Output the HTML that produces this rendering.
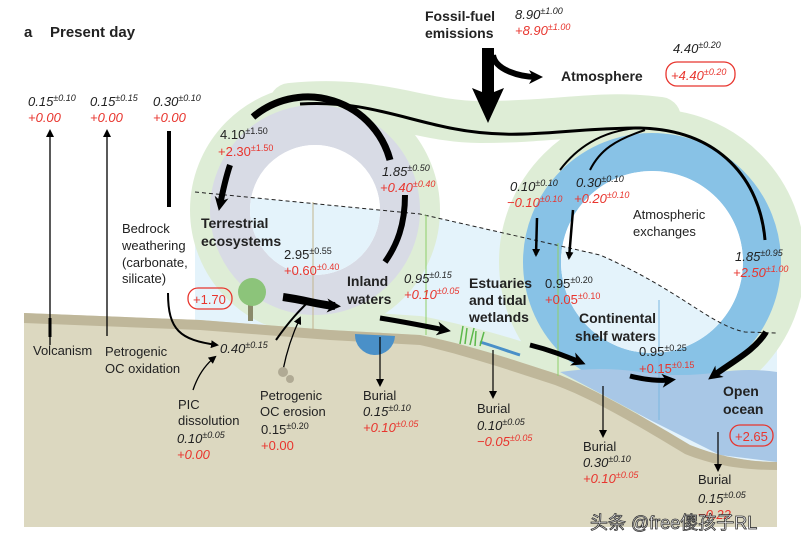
<!DOCTYPE html>
<html><head><meta charset="utf-8"><style>
body{margin:0;background:#fff}
svg{display:block}
text{font-family:"Liberation Sans",Arial,sans-serif;font-size:13px;fill:#222}
.r{fill:#e8352e}.i{font-style:italic}.b{font-weight:bold;font-size:14px}
.s{font-size:9px}
</style></head><body>
<svg width="801" height="549" viewBox="0 0 801 549" xmlns="http://www.w3.org/2000/svg">
<defs>
<marker id="ah" markerWidth="8" markerHeight="8" refX="6" refY="4" orient="auto" markerUnits="userSpaceOnUse"><path d="M0,0 L8,4 L0,8 z" fill="#000"/></marker>
<marker id="ab" markerWidth="14" markerHeight="14" refX="8" refY="7" orient="auto" markerUnits="userSpaceOnUse"><path d="M0,0 L14,7 L0,14 L4,7 z" fill="#000"/></marker>
<path id="lb" d="M195,192 L420,214 L600,255 C680,290 710,325 745,332 L777,333 L777,480 L195,480 Z"/>
<clipPath id="c1"><circle cx="315" cy="210" r="65"/></clipPath>
<clipPath id="c2"><circle cx="652" cy="262" r="91"/></clipPath>
</defs>
<use href="#lb" fill="#e4f3fb"/>
<g fill="none" stroke="#deedd6">
<circle cx="315" cy="210" r="112" stroke-width="26"/>
<path d="M290,104 C380,95 420,122 480,122 C560,122 600,110 660,118" stroke-width="42" stroke-linecap="round"/>
<circle cx="652" cy="262" r="140" stroke-width="26"/>
<path d="M330,322 L420,328 C470,338 520,352 560,368 L640,400" stroke-width="24"/>
</g>
<circle cx="315" cy="210" r="85" fill="none" stroke="#d8dbe5" stroke-width="40"/>
<circle cx="652" cy="262" r="110" fill="none" stroke="#88c2e6" stroke-width="38"/>
<circle cx="315" cy="210" r="65" fill="#fff"/>
<circle cx="652" cy="262" r="91" fill="#fff"/>
<use href="#lb" fill="#e4f3fb" clip-path="url(#c1)"/>
<use href="#lb" fill="#e4f3fb" clip-path="url(#c2)"/>
<path d="M195,192 L420,214 L600,255 C680,290 710,325 745,332 L777,333" fill="none" stroke="#222" stroke-dasharray="4,3" stroke-width="1"/>
<path d="M560,372 Q600,366 640,372 Q680,378 720,372 Q750,368 777,372 L777,462 L720,455 L650,420 Z" fill="#a8c7e6"/>
<path d="M24,313 L200,320 L330,330 L420,335 C470,345 520,362 560,375 C600,392 640,415 690,445 C720,457 750,462 777,462 L777,527 L24,527 Z" fill="#dcd8c0"/>
<path d="M24,313 L200,320 L330,330 L420,335 C470,345 520,362 560,375 C600,392 640,415 690,445 C720,457 750,462 777,462 L777,470 C745,470 715,466 685,454 C635,424 595,400 555,385 C515,372 465,355 420,345 L330,340 L200,330 L24,323 Z" fill="#bfb79a"/>
<path d="M355,334 A20,20 0 0 0 395,336 Z" fill="#4a90c8"/>
<path d="M480,342 C500,348 510,352 520,355" stroke="#4a90c8" stroke-width="3" fill="none"/>
<rect x="248" y="296" width="5" height="25" fill="#8a8a6a"/>
<circle cx="252" cy="292" r="14" fill="#8cc47a"/>
<path d="M460,344 l3,-18 M465,344 l2,-16 M470,345 l4,-17 M475,346 l1,-15 M480,346 l4,-14" stroke="#5cb84a" stroke-width="1.5"/>
<g stroke-width="1">
<line x1="313" y1="202" x2="313" y2="330" stroke="#c2b48e"/>
<line x1="426" y1="215" x2="426" y2="335" stroke="#8fcf6a"/>
<line x1="558" y1="243" x2="558" y2="376" stroke="#8fcf6a"/>
<line x1="659" y1="300" x2="659" y2="420" stroke="#7ab7e0"/>
</g>
<line x1="50" y1="345" x2="50" y2="131" stroke="#000" stroke-width="1.3" marker-end="url(#ah)"/>
<line x1="50" y1="318" x2="50" y2="337" stroke="#000" stroke-width="3"/>
<line x1="107" y1="336" x2="107" y2="131" stroke="#000" stroke-width="1.3" marker-end="url(#ah)"/>
<line x1="169" y1="131" x2="169" y2="207" stroke="#000" stroke-width="4"/>
<path d="M168,293 C168,330 180,340 217,345" fill="none" stroke="#000" stroke-width="2" marker-end="url(#ah)"/>
<path d="M193,390 C198,375 205,365 215,357" fill="none" stroke="#000" stroke-width="1.3" marker-end="url(#ah)"/>
<path d="M276,340 C290,320 300,310 310,300" fill="none" stroke="#000" stroke-width="2"/>
<path d="M283,370 C287,350 292,335 300,318" fill="none" stroke="#000" stroke-width="1.3" marker-end="url(#ah)"/>
<circle cx="283" cy="372" r="5" fill="#b0aa94"/><circle cx="290" cy="379" r="4" fill="#b0aa94"/>
<g stroke="#000" stroke-width="1.2">
<line x1="380" y1="337" x2="380" y2="385" marker-end="url(#ah)"/>
<line x1="493" y1="350" x2="493" y2="397" marker-end="url(#ah)"/>
<line x1="603" y1="386" x2="603" y2="436" marker-end="url(#ah)"/>
<line x1="718" y1="432" x2="718" y2="470" marker-end="url(#ah)"/>
</g>
<g fill="none" stroke="#000">
<path d="M253,117 A85,85 0 0 1 390,160" stroke-width="7"/>
<path d="M230,165 C225,180 222,195 220,205" stroke-width="6" marker-end="url(#ab)"/>
<path d="M405,195 C405,225 397,245 385,262" stroke-width="6"/>
<path d="M300,104 C360,100 400,118 450,128 C520,142 560,128 640,128 C720,130 760,180 765,240" stroke-width="3"/>
<path d="M640,128 C600,130 575,150 560,170" stroke-width="2"/>
<path d="M645,130 C615,140 600,150 590,170" stroke-width="2"/>
<path d="M537,218 L536,255" stroke-width="2.5" marker-end="url(#ah)"/>
<path d="M573,210 L569,258" stroke-width="2.5" marker-end="url(#ah)"/>
<path d="M766,332 C755,350 735,360 713,376" stroke-width="6" marker-end="url(#ab)"/>
<path d="M283,297 C305,300 320,305 335,306" stroke-width="8" marker-end="url(#ab)"/>
<path d="M380,318 C405,322 425,326 445,330" stroke-width="5" marker-end="url(#ab)"/>
<path d="M530,345 C550,350 565,356 580,362" stroke-width="5" marker-end="url(#ab)"/>
<path d="M630,376 C645,380 660,381 670,380" stroke-width="5" marker-end="url(#ab)"/>
<path d="M493,55 C495,70 520,77 537,77" stroke-width="6" marker-end="url(#ab)"/>
</g>
<path d="M482,48 L494,48 L494,92 L504,88 L488,123 L472,88 L482,92 Z" fill="#000"/>
<g fill="none" stroke="#e8352e" stroke-width="1.3">
<rect x="188" y="288" width="44" height="21" rx="10"/>
<rect x="730" y="425" width="43" height="21" rx="10"/>
<rect x="666" y="62" width="69" height="24" rx="11"/>
</g>
<text x="24" y="37" class="b" style="font-size:15px">a</text>
<text x="50" y="37" class="b" style="font-size:15px">Present day</text>
<text x="28" y="106" class="i">0.15<tspan class="s" dy="-5">±0.10</tspan></text>
<text x="28" y="122" class="i r">+0.00</text>
<text x="90" y="106" class="i">0.15<tspan class="s" dy="-5">±0.15</tspan></text>
<text x="90" y="122" class="i r">+0.00</text>
<text x="153" y="106" class="i">0.30<tspan class="s" dy="-5">±0.10</tspan></text>
<text x="153" y="122" class="i r">+0.00</text>
<text x="33" y="355">Volcanism</text>
<text x="105" y="356">Petrogenic</text><text x="105" y="373">OC oxidation</text>
<text x="122" y="233">Bedrock</text><text x="122" y="250">weathering</text><text x="122" y="267">(carbonate,</text><text x="122" y="283">silicate)</text>
<text x="193" y="304" class="r">+1.70</text>
<text x="220" y="353" class="i">0.40<tspan class="s" dy="-5">±0.15</tspan></text>
<text x="178" y="409">PIC</text><text x="178" y="425">dissolution</text>
<text x="177" y="443" class="i">0.10<tspan class="s" dy="-5">±0.05</tspan></text>
<text x="177" y="459" class="i r">+0.00</text>
<text x="260" y="400">Petrogenic</text><text x="260" y="416">OC erosion</text>
<text x="261" y="434">0.15<tspan class="s" dy="-5">±0.20</tspan></text>
<text x="261" y="450" class="r">+0.00</text>
<text x="363" y="400">Burial</text>
<text x="363" y="416" class="i">0.15<tspan class="s" dy="-5">±0.10</tspan></text>
<text x="363" y="432" class="i r">+0.10<tspan class="s" dy="-5">±0.05</tspan></text>
<text x="477" y="413">Burial</text>
<text x="477" y="430" class="i">0.10<tspan class="s" dy="-5">±0.05</tspan></text>
<text x="477" y="446" class="i r">−0.05<tspan class="s" dy="-5">±0.05</tspan></text>
<text x="583" y="451">Burial</text>
<text x="583" y="467" class="i">0.30<tspan class="s" dy="-5">±0.10</tspan></text>
<text x="583" y="483" class="i r">+0.10<tspan class="s" dy="-5">±0.05</tspan></text>
<text x="698" y="484">Burial</text>
<text x="698" y="503" class="i">0.15<tspan class="s" dy="-5">±0.05</tspan></text>
<text x="698" y="519" class="i r">−0.22</text>
<text x="425" y="21" class="b">Fossil-fuel</text><text x="425" y="38" class="b">emissions</text>
<text x="515" y="19" class="i">8.90<tspan class="s" dy="-5">±1.00</tspan></text>
<text x="515" y="35" class="i r">+8.90<tspan class="s" dy="-5">±1.00</tspan></text>
<text x="673" y="53" class="i">4.40<tspan class="s" dy="-5">±0.20</tspan></text>
<text x="671" y="80" class="i r">+4.40<tspan class="s" dy="-5">±0.20</tspan></text>
<text x="561" y="81" class="b">Atmosphere</text>
<text x="220" y="139">4.10<tspan class="s" dy="-5">±1.50</tspan></text>
<text x="218" y="156" class="r">+2.30<tspan class="s" dy="-5">±1.50</tspan></text>
<text x="382" y="176" class="i">1.85<tspan class="s" dy="-5">±0.50</tspan></text>
<text x="380" y="192" class="i r">+0.40<tspan class="s" dy="-5">±0.40</tspan></text>
<text x="201" y="228" class="b">Terrestrial</text><text x="201" y="246" class="b">ecosystems</text>
<text x="284" y="259">2.95<tspan class="s" dy="-5">±0.55</tspan></text>
<text x="284" y="275" class="r">+0.60<tspan class="s" dy="-5">±0.40</tspan></text>
<text x="347" y="286" class="b">Inland</text><text x="347" y="304" class="b">waters</text>
<text x="404" y="283" class="i">0.95<tspan class="s" dy="-5">±0.15</tspan></text>
<text x="404" y="299" class="i r">+0.10<tspan class="s" dy="-5">±0.05</tspan></text>
<text x="469" y="288" class="b">Estuaries</text><text x="469" y="305" class="b">and tidal</text><text x="469" y="322" class="b">wetlands</text>
<text x="510" y="191" class="i">0.10<tspan class="s" dy="-5">±0.10</tspan></text>
<text x="507" y="207" class="i r">−0.10<tspan class="s" dy="-5">±0.10</tspan></text>
<text x="576" y="187" class="i">0.30<tspan class="s" dy="-5">±0.10</tspan></text>
<text x="574" y="203" class="i r">+0.20<tspan class="s" dy="-5">±0.10</tspan></text>
<text x="633" y="219">Atmospheric</text><text x="633" y="236">exchanges</text>
<text x="735" y="261" class="i">1.85<tspan class="s" dy="-5">±0.95</tspan></text>
<text x="733" y="277" class="i r">+2.50<tspan class="s" dy="-5">±1.00</tspan></text>
<text x="545" y="288">0.95<tspan class="s" dy="-5">±0.20</tspan></text>
<text x="545" y="304" class="r">+0.05<tspan class="s" dy="-5">±0.10</tspan></text>
<text x="579" y="323" class="b">Continental</text><text x="575" y="341" class="b">shelf waters</text>
<text x="639" y="356">0.95<tspan class="s" dy="-5">±0.25</tspan></text>
<text x="639" y="373" class="r">+0.15<tspan class="s" dy="-5">±0.15</tspan></text>
<text x="723" y="396" class="b">Open</text><text x="723" y="414" class="b">ocean</text>
<text x="735" y="441" class="r">+2.65</text>
<text x="590" y="529" style="font-family:'Liberation Sans','Noto Sans CJK SC',sans-serif;font-size:18px;fill:#fff;stroke:#333;stroke-width:0.8">头条 @free傻孩子RL</text>
</svg>
</body></html>
